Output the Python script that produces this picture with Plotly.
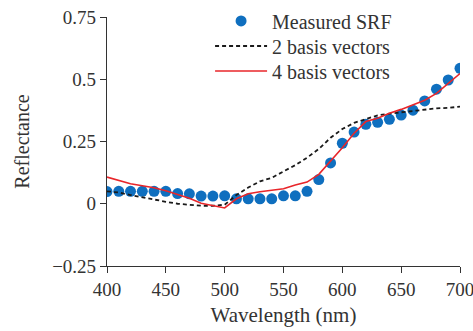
import plotly.graph_objects as go

wavelength = list(range(400, 701, 10))
measured_srf = [0.049, 0.05, 0.05, 0.05, 0.05, 0.05, 0.041, 0.04, 0.031, 0.031,
                0.032, 0.02, 0.02, 0.02, 0.02, 0.032, 0.032, 0.05, 0.097, 0.164,
                0.243, 0.288, 0.319, 0.327, 0.339, 0.356, 0.376, 0.413, 0.46, 0.497, 0.544]
basis2 = [0.05, 0.045, 0.035, 0.025, 0.015, 0.008, 0.0, -0.005, -0.008, -0.008,
          -0.004, 0.035, 0.065, 0.09, 0.104, 0.13, 0.155, 0.185, 0.22, 0.265,
          0.3, 0.325, 0.34, 0.355, 0.362, 0.368, 0.374, 0.38, 0.383, 0.385, 0.39]
basis4 = [0.107, 0.095, 0.08, 0.072, 0.064, 0.052, 0.038, 0.022, 0.002, -0.008,
          -0.017, 0.02, 0.04, 0.048, 0.053, 0.06, 0.075, 0.087, 0.118, 0.17,
          0.225, 0.283, 0.33, 0.343, 0.363, 0.379, 0.396, 0.416, 0.443, 0.483, 0.523]

x_ticks = [400, 450, 500, 550, 600, 650, 700]
y_ticks = [-0.25, 0, 0.25, 0.5, 0.75]
y_labels = ["\u22120.25", "0", "0.25", "0.5", "0.75"]

font = "Liberation Serif, DejaVu Serif, serif"
txt = "#333333"

fig = go.Figure()
fig.add_trace(go.Scatter(x=wavelength, y=measured_srf, mode="markers", name="Measured SRF",
                         marker=dict(color="#0f6fbf", size=11), legend="legend"))
fig.add_trace(go.Scatter(x=wavelength, y=basis2, mode="lines", name="2 basis vectors",
                         line=dict(color="#1a1a1a", width=1.8, dash="4px,3px"), legend="legend2"))
fig.add_trace(go.Scatter(x=wavelength, y=basis4, mode="lines", name="4 basis vectors",
                         line=dict(color="#e8262a", width=1.6), legend="legend3"))

leg_common = dict(x=0.292, xanchor="left", yanchor="middle", bgcolor="rgba(0,0,0,0)",
                  font=dict(family=font, size=20, color=txt), itemwidth=52)

fig.update_layout(
    width=473, height=331,
    margin=dict(l=107, r=13, t=17, b=65, autoexpand=False),
    plot_bgcolor="white", paper_bgcolor="white",
    font=dict(family=font, size=19, color=txt),
    showlegend=True,
    legend=dict(y=0.984, **leg_common),
    legend2=dict(y=0.8835, **leg_common),
    legend3=dict(y=0.783, **leg_common),
    xaxis=dict(range=[400, 700], tickvals=x_ticks, showgrid=False, zeroline=False,
               showline=True, linecolor=txt, linewidth=1.2, automargin=False,
               ticks="outside", ticklen=6, tickcolor=txt,
               ticklabeloverflow="allow",
               tickfont=dict(family=font, size=19),
               title=dict(text="Wavelength (nm)", standoff=8, font=dict(family=font, size=21))),
    yaxis=dict(range=[-0.25, 0.75], tickvals=y_ticks, ticktext=y_labels,
               showgrid=False, zeroline=False, automargin=False,
               showline=True, linecolor=txt, linewidth=1.2,
               ticks="outside", ticklen=6, tickcolor=txt,
               tickfont=dict(family=font, size=19),
               title=dict(text="Reflectance", standoff=17, font=dict(family=font, size=20))),
)

fig.write_html("out.html")
